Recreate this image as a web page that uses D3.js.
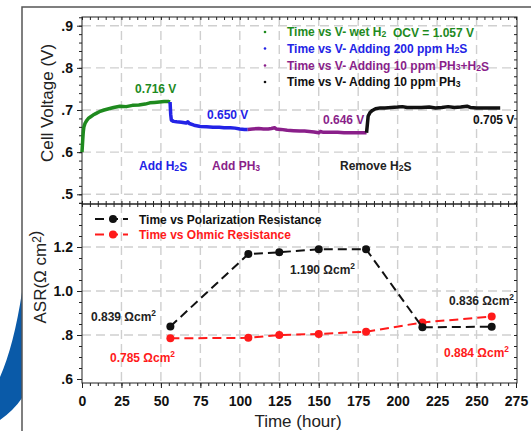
<!DOCTYPE html>
<html><head><meta charset="utf-8">
<script src="https://cdn.jsdelivr.net/npm/d3@7"></script>
<style>body{margin:0;background:#fff}svg{display:block;font-family:"Liberation Sans",Arial,sans-serif}</style>
</head><body><svg id="c" width="531" height="431"></svg>
<script>
// ---- data ----
const greenT = [0,0.4,0.8,1.2,2,3,4,5.5,7,9,11,14,17,20,24,28,32,36,40,43,46,49,52,55,55.8];
const greenV = [0.600,0.625,0.648,0.660,0.669,0.675,0.680,0.684,0.688,0.692,0.696,0.700,0.703,0.706,0.709,0.708,0.711,0.712,0.714,0.717,0.718,0.719,0.720,0.720,0.719];
const blueT = [55.8,56.2,56.6,58,60,63,66,67,68,71,75,79,83,87,90,94,97,100,103,105];
const blueV = [0.719,0.690,0.676,0.673,0.672,0.671,0.669,0.672,0.668,0.664,0.661,0.660,0.659,0.659,0.658,0.658,0.657,0.655,0.654,0.654];
const purpleT = [105,108,112,115,118,120,122,123,126,130,134,138,141,144,147,150,151,153,157,162,166,170,175,180.3];
const purpleV = [0.654,0.655,0.656,0.655,0.655,0.656,0.658,0.655,0.654,0.652,0.651,0.650,0.650,0.649,0.648,0.646,0.649,0.647,0.647,0.647,0.646,0.646,0.646,0.646];
const blackT = [180.3,180.8,181.3,182.5,184,186,189,192,196,200,203,206,210,215,220,224,228,232,236,240,244,246,250,255,260,265];
const blackV = [0.646,0.665,0.685,0.694,0.699,0.703,0.705,0.705,0.706,0.707,0.708,0.706,0.706,0.706,0.707,0.705,0.706,0.708,0.706,0.707,0.709,0.706,0.705,0.705,0.705,0.705];
const asrT = [56,105.4,125,150,180,215.7,259.6];
const polR = [0.839,1.168,1.176,1.190,1.190,0.835,0.838];
const ohmR = [0.785,0.787,0.800,0.805,0.815,0.857,0.884];
const xTicks = [0,25,50,75,100,125,150,175,200,225,250,275];
const yTopTicks = [0.5,0.6,0.7,0.8,0.9];
const yBotTicks = [0.6,0.8,1.0,1.2];
const legendTop = ["Time vs V- wet H_2\u00a0 OCV = 1.057 V","Time vs V- Adding 200 ppm H_2S","Time vs V- Adding 10 ppm PH_3+H_2S","Time vs V- Adding 10 ppm PH_3"];
const legendBot = ["Time vs Polarization Resistance","Time vs Ohmic Resistance"];

const svg = d3.select("#c");
const L=82,R=517,T1=17,B1=204,T2=204,B2=383;
const x = d3.scaleLinear().domain([0,275]).range([82,516]);
const yT = d3.scaleLinear().domain([0.5,0.9]).range([194.3,25.7]);
const yB = d3.scaleLinear().domain([0.6,1.2]).range([379,247]);
const cG="#1e8a1e",cB="#2323e6",cP="#8a1f8a",cK="#111",cR="#ff1a1a";

// frame + swoosh
svg.append("path").attr("d","M22,292 Q14,345 0,377 L0,420 Q14,410 22,398 Z").attr("fill","#0a5aa8");
svg.append("path").attr("d","M22,431 L22,7 L531,7").attr("fill","none").attr("stroke","#555").attr("stroke-width",1.5);

// rich text helper (_x subscript, ^x superscript)
function rich(sel,str,fs){
  const parts = str.split(/([_^].)/);
  parts.forEach(p=>{
    if(!p) return;
    if(p[0]==="_"){ sel.append("tspan").attr("font-size",fs*0.72).attr("dy",0.5).text(p[1]); sel.append("tspan").attr("dy",-0.5).text("");}
    else if(p[0]==="^"){ sel.append("tspan").attr("font-size",fs*0.7).attr("dy",-5).text(p[1]); sel.append("tspan").attr("dy",5).text("");}
    else sel.append("tspan").text(p);
  });
}

// gridlines
const grid = svg.append("g").attr("stroke","#cfcfcf").attr("stroke-width",1.4).attr("stroke-dasharray","9,5");
xTicks.filter(t=>t>0&&t<275).forEach(t=>{
  grid.append("line").attr("x1",x(t)).attr("x2",x(t)).attr("y1",T1).attr("y2",B1);
  grid.append("line").attr("x1",x(t)).attr("x2",x(t)).attr("y1",T2).attr("y2",B2);
});
yTopTicks.forEach(v=>grid.append("line").attr("x1",L).attr("x2",R).attr("y1",yT(v)).attr("y2",yT(v)));
yBotTicks.filter(v=>v>0.6).forEach(v=>grid.append("line").attr("x1",L).attr("x2",R).attr("y1",yB(v)).attr("y2",yB(v)));

// panel borders
svg.append("rect").attr("x",L).attr("y",T1).attr("width",R-L).attr("height",B1-T1).attr("fill","none").attr("stroke","#222").attr("stroke-width",1);
svg.append("rect").attr("x",L).attr("y",T2).attr("width",R-L).attr("height",B2-T2).attr("fill","none").attr("stroke","#222").attr("stroke-width",1);

// axes helpers
function styleAxis(g){ g.select(".domain").remove(); g.selectAll("line").attr("stroke","#222"); g.selectAll("text").attr("font-size",14).attr("font-weight","bold").attr("fill","#111").attr("font-family","Liberation Sans, Arial, sans-serif"); }
const xMinor = d3.range(0,276,5);
const fmtY = v=>{const s=d3.format(".1f")(v); return s.startsWith("0")?s.slice(1):s;};
// top panel
svg.append("g").attr("transform",`translate(${L},0)`).call(d3.axisLeft(yT).tickValues(yTopTicks).tickFormat(fmtY).tickSize(5).tickPadding(4)).call(styleAxis);
svg.append("g").attr("transform",`translate(${L},0)`).call(d3.axisLeft(yT).tickValues(d3.range(0.48,0.921,0.02)).tickFormat("").tickSize(3)).call(styleAxis);
svg.append("g").attr("transform",`translate(${R},0)`).call(d3.axisLeft(yT).tickValues(d3.range(0.48,0.921,0.02)).tickFormat("").tickSize(3)).call(styleAxis);
svg.append("g").attr("transform",`translate(0,${T1})`).call(d3.axisBottom(x).tickValues(xMinor).tickFormat("").tickSize(3)).call(styleAxis);
svg.append("g").attr("transform",`translate(0,${B1})`).call(d3.axisTop(x).tickValues(xMinor).tickFormat("").tickSize(3)).call(styleAxis);
svg.append("g").attr("transform",`translate(0,${T2})`).call(d3.axisBottom(x).tickValues(xMinor).tickFormat("").tickSize(3)).call(styleAxis);
// bottom panel
svg.append("g").attr("transform",`translate(${L},0)`).call(d3.axisLeft(yB).tickValues(yBotTicks).tickFormat(fmtY).tickSize(5).tickPadding(4)).call(styleAxis);
svg.append("g").attr("transform",`translate(${L},0)`).call(d3.axisLeft(yB).tickValues(d3.range(0.6,1.401,0.05)).tickFormat("").tickSize(3)).call(styleAxis);
svg.append("g").attr("transform",`translate(${R},0)`).call(d3.axisLeft(yB).tickValues(d3.range(0.6,1.401,0.05)).tickFormat("").tickSize(3)).call(styleAxis);
svg.append("g").attr("transform",`translate(0,${B2})`).call(d3.axisBottom(x).tickValues(xTicks).tickFormat(d3.format("d")).tickSize(5).tickPadding(8)).call(styleAxis);
svg.append("g").attr("transform",`translate(0,${B2})`).call(d3.axisBottom(x).tickValues(xMinor).tickFormat("").tickSize(3)).call(styleAxis);

// voltage series
const vline = d3.line().x(d=>x(d[0])).y(d=>yT(d[1]));
[[greenT,greenV,cG],[blueT,blueV,cB],[purpleT,purpleV,cP],[blackT,blackV,cK]].forEach(([t,v,c])=>{
  svg.append("path").datum(t.map((tt,i)=>[tt,v[i]])).attr("d",vline).attr("fill","none").attr("stroke",c).attr("stroke-width",3.5).attr("stroke-linejoin","round");
});

// top legend
const lc=[cG,cB,cP,cK], lby=[36,52.5,69.5,86];
legendTop.forEach((s,i)=>{
  svg.append("circle").attr("cx",265).attr("cy",lby[i]-4).attr("r",1.3).attr("fill",lc[i]);
  const t=svg.append("text").attr("x",287).attr("y",lby[i]).attr("font-size",12).attr("font-weight","bold").attr("fill",lc[i]);
  rich(t,s,12);
});

// top annotations
function ann(s,xx,yy,c,anchor,fs){ const t=svg.append("text").attr("x",xx).attr("y",yy).attr("font-size",fs||12).attr("font-weight","bold").attr("fill",c).attr("text-anchor",anchor||"start"); rich(t,s,fs||12); }
ann("0.716 V",135,93,cG);
ann("0.650 V",207,119,cB);
ann("0.646 V",323,124,cP);
ann("0.705 V",473,124,cK);
ann("Add H_2S",139,170,cB);
ann("Add PH_3",212,170,cP);
ann("Remove H_2S",340,170,"#222");

// ASR series
const aline = d3.line().x(d=>x(d[0])).y(d=>yB(d[1]));
[[ohmR,cR],[polR,cK]].forEach(([v,c])=>{
  const pts=asrT.map((t,i)=>[t,v[i]]);
  svg.append("path").datum(pts).attr("d",aline).attr("fill","none").attr("stroke",c).attr("stroke-width",2).attr("stroke-dasharray","9,5");
  svg.selectAll(null).data(pts).enter().append("circle").attr("cx",d=>x(d[0])).attr("cy",d=>yB(d[1])).attr("r",4).attr("fill",c);
});

// bottom legend
[[legendBot[0],cK,223.5],[legendBot[1],cR,239]].forEach(([s,c,yy])=>{
  svg.append("line").attr("x1",95).attr("x2",128).attr("y1",yy-4.5).attr("y2",yy-4.5).attr("stroke",c).attr("stroke-width",2).attr("stroke-dasharray","9,5");
  svg.append("circle").attr("cx",113).attr("cy",yy-4.5).attr("r",4).attr("fill",c);
  svg.append("text").attr("x",139).attr("y",yy).attr("font-size",12).attr("font-weight","bold").attr("fill",c).text(s);
});

// bottom annotations
ann("0.839 Ωcm^2",91,321,"#222");
ann("0.785 Ωcm^2",110,362,cR);
ann("1.190 Ωcm^2",290,274,"#222");
ann("0.836 Ωcm^2",449,305,"#222");
ann("0.884 Ωcm^2",444,357,cR);

// axis titles
svg.append("text").attr("transform","translate(53,103) rotate(-90)").attr("text-anchor","middle").attr("font-size",17).attr("fill","#222").text("Cell Voltage (V)");
const t2=svg.append("text").attr("transform","translate(46,277) rotate(-90)").attr("text-anchor","middle").attr("font-size",17).attr("fill","#222");
rich(t2,"ASR(Ω cm^2)",17);
svg.append("text").attr("x",298).attr("y",427).attr("text-anchor","middle").attr("font-size",17).attr("fill","#222").text("Time (hour)");
</script></body></html>
